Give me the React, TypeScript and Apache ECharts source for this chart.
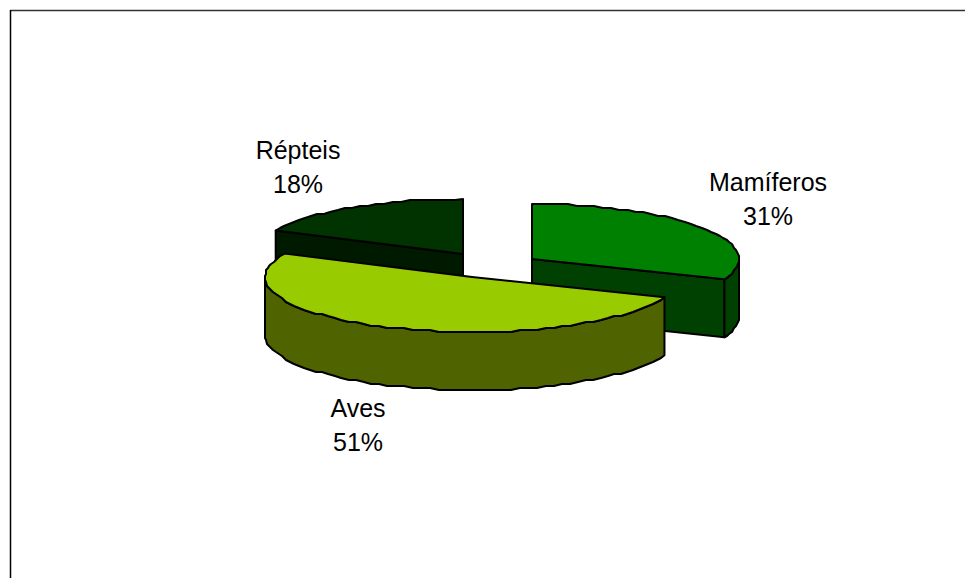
import React, { useEffect, useRef } from "react";
import * as echarts from "echarts";

const categories = ["Mamíferos", "Aves", "Répteis"];
const values = [31, 51, 18];
const topColors = ["#008000", "#99CC00", "#003300"];
const sideColors = ["#004000", "#4F6300", "#001A00"];
// slice apex on the top surface
const apexX = [532, 472, 463];
const apexY = [259, 277, 254];
const labelX = [768, 358, 298];
const labelY = [199, 425, 167];
const drawOrder = [2, 0, 1];

const RX = 207;
const RY = 55;
const DEPTH = 58;
const total = values.reduce((a, b) => a + b, 0);
const rad = (d: number) => (d * Math.PI) / 180;

function angles(i: number): [number, number] {
  let s = 0;
  for (let k = 0; k < i; k++) s += values[k];
  return [(s / total) * 360, ((s + values[i]) / total) * 360];
}

function pt(i: number, a: number, dy = 0): number[] {
  return [apexX[i] + RX * Math.sin(rad(a)), apexY[i] - RY * Math.cos(rad(a)) + dy];
}

// coarse arc: the original renders with a slightly stepped outline
function arc(i: number, a0: number, a1: number, dy = 0): number[][] {
  const out: number[][] = [pt(i, a0, dy)];
  const step = 2.5;
  for (let a = a0 + step; a < a1 - step / 2; a += step) {
    const p = pt(i, a, dy);
    out.push([Math.round(p[0]), Math.round(p[1] / 2) * 2]);
  }
  out.push(pt(i, a1, dy));
  return out;
}

const stroke = { stroke: "#000000", lineWidth: 2, lineJoin: "round" as const };

function renderSlice(_: any, api: any) {
  const i = api.value(0) as number;
  const [a0, a1] = angles(i);
  const apex = [apexX[i], apexY[i]];
  const children: any[] = [];
  const poly = (points: number[][], fill: string) =>
    children.push({ type: "polygon", shape: { points }, style: { fill, ...stroke } });
  const cutFace = (a: number) => {
    const c = pt(i, a);
    poly([apex, c, [c[0], c[1] + DEPTH], [apex[0], apex[1] + DEPTH]], sideColors[i]);
  };

  // cut faces turned toward the viewer
  if (a1 > 0 && a1 < 180) cutFace(a1);
  if (a0 > 180 && a0 < 360) cutFace(a0);
  // visible outer wall: the front half of the ellipse
  const w0 = Math.max(a0, 90);
  const w1 = Math.min(a1, 270);
  if (w1 > w0) {
    poly([...arc(i, w0, w1), ...arc(i, w0, w1, DEPTH).reverse()], sideColors[i]);
  }
  // top surface
  poly([apex, ...arc(i, a0, a1)], topColors[i]);
  // label
  children.push({
    type: "text",
    x: labelX[i],
    y: labelY[i],
    style: {
      text: `${categories[i]}\n${values[i]}%`,
      fill: "#000000",
      font: "25px 'Liberation Sans', Arial, sans-serif",
      lineHeight: 34,
      align: "center",
      verticalAlign: "middle",
    },
  });
  return { type: "group", children };
}

export default function App() {
  const ref = useRef<HTMLDivElement>(null);
  useEffect(() => {
    const chart = echarts.init(ref.current!, null, { renderer: "svg" });
    chart.setOption({
      animation: false,
      backgroundColor: "#ffffff",
      graphic: [
        { type: "line", shape: { x1: 10, y1: 10.5, x2: 965, y2: 10.5 }, style: { stroke: "#333333", lineWidth: 1.5 } },
        { type: "line", shape: { x1: 10.5, y1: 10, x2: 10.5, y2: 578 }, style: { stroke: "#000000", lineWidth: 1.5 } },
      ],
      series: [
        {
          type: "custom",
          coordinateSystem: "none",
          silent: true,
          renderItem: renderSlice,
          data: drawOrder.map((i) => [i, values[i]]),
          encode: { value: 1 },
        },
      ],
    });
    return () => chart.dispose();
  }, []);
  return <div ref={ref} style={{ position: "absolute", left: 0, top: 0, width: 965, height: 578 }} />;
}
